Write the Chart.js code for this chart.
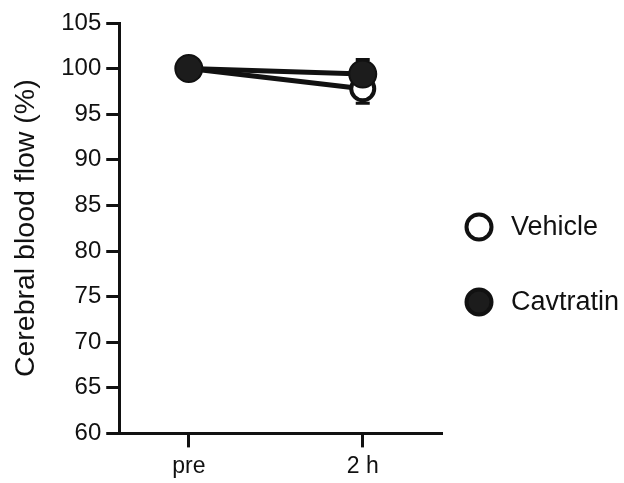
<!DOCTYPE html>
<html>
<head>
<meta charset="utf-8">
<script src="https://cdn.jsdelivr.net/npm/chart.js@4/dist/chart.umd.min.js"></script>
<style>
  html, body { margin: 0; padding: 0; background: #fff; }
  #wrap { width: 624px; height: 483px; }
</style>
</head>
<body>
<div id="wrap"><canvas id="myChart"></canvas></div>
<script>
// data
const timeLabels = ['pre', '2 h'];
const vehicleMean = [100, 97.8];
const vehicleErr = [0, 1.6];
const cavtratinMean = [100, 99.4];
const cavtratinErr = [0, 1.6];
const yTicks = [60, 65, 70, 75, 80, 85, 90, 95, 100, 105];

const ink = '#111';
const FONT = '"Liberation Sans", Arial, sans-serif';

function toPoints(means) {
    return means.map((v, i) => ({ x: i, y: v }));
}

// error bars drawn under the markers; Vehicle shows only the lower arm, Cavtratin the upper
const errorBars = {
    id: 'errorBars',
    beforeDatasetsDraw(chart) {
        const { ctx, scales: { x, y } } = chart;
        ctx.save();
        ctx.strokeStyle = ink;
        ctx.lineWidth = 3;
        const cap = 7;
        const arm = (i, from, to) => {
            const px = x.getPixelForValue(i);
            const y0 = y.getPixelForValue(from);
            const y1 = y.getPixelForValue(to);
            ctx.beginPath();
            ctx.moveTo(px, y0); ctx.lineTo(px, y1);
            ctx.moveTo(px - cap, y1); ctx.lineTo(px + cap, y1);
            ctx.stroke();
        };
        vehicleMean.forEach((m, i) => { if (vehicleErr[i]) arm(i, m, m - vehicleErr[i]); });
        cavtratinMean.forEach((m, i) => { if (cavtratinErr[i]) arm(i, m, m + cavtratinErr[i]); });
        ctx.restore();
    }
};

// legend on the right, outside the axes
const sideLegend = {
    id: 'sideLegend',
    afterDraw(chart) {
        const { ctx } = chart;
        const items = [
            { text: 'Vehicle', fill: '#fff', y: 227 },
            { text: 'Cavtratin', fill: '#1c1c1c', y: 302 }
        ];
        ctx.save();
        items.forEach(it => {
            ctx.beginPath();
            ctx.arc(479, it.y, 12.5, 0, Math.PI * 2);
            ctx.fillStyle = it.fill;
            ctx.fill();
            ctx.lineWidth = 4;
            ctx.strokeStyle = ink;
            ctx.stroke();
            ctx.fillStyle = ink;
            ctx.font = '27px ' + FONT;
            ctx.textBaseline = 'middle';
            ctx.fillText(it.text, 511, it.y + 1);
        });
        ctx.restore();
    }
};

const ctx = document.getElementById('myChart').getContext('2d');
const chart = new Chart(ctx, {
    type: 'line',
    data: {
        datasets: [{
            label: 'Vehicle',
            data: toPoints(vehicleMean),
            borderColor: ink,
            borderWidth: 5,
            backgroundColor: '#fff',
            pointBackgroundColor: '#fff',
            pointBorderColor: ink,
            pointBorderWidth: 4,
            pointRadius: 11.5,
            order: 2
        }, {
            label: 'Cavtratin',
            data: toPoints(cavtratinMean),
            borderColor: ink,
            borderWidth: 5,
            backgroundColor: '#1c1c1c',
            pointBackgroundColor: '#1c1c1c',
            pointBorderColor: ink,
            pointBorderWidth: 2,
            pointRadius: 13.5,
            order: 1
        }]
    },
    options: {
        responsive: true,
        maintainAspectRatio: false,
        animation: false,
        layout: { padding: { left: 9, right: 183, top: 23, bottom: -2 } },
        plugins: {
            legend: { display: false },
            tooltip: { enabled: false }
        },
        scales: {
            x: {
                type: 'linear',
                min: -0.4,
                max: 1.45,
                afterBuildTicks: axis => { axis.ticks = timeLabels.map((_, i) => ({ value: i })); },
                ticks: {
                    callback: v => timeLabels[v],
                    color: ink,
                    font: { family: FONT, size: 23 },
                    padding: 5,
                    maxRotation: 0
                },
                grid: { display: true, drawOnChartArea: false, drawTicks: true, tickLength: 14, color: ink, lineWidth: 3 },
                border: { display: true, color: ink, width: 3 }
            },
            y: {
                min: 60,
                max: 105,
                afterBuildTicks: axis => { axis.ticks = yTicks.map(v => ({ value: v })); },
                ticks: {
                    color: ink,
                    font: { family: FONT, size: 24 },
                    padding: 5
                },
                title: {
                    display: true,
                    text: 'Cerebral blood flow (%)',
                    color: ink,
                    font: { family: FONT, size: 28.5 },
                    padding: { top: 0, bottom: 13 }
                },
                grid: { display: true, drawOnChartArea: false, drawTicks: true, tickLength: 13, color: ink, lineWidth: 3 },
                border: { display: true, color: ink, width: 3 }
            }
        }
    },
    plugins: [errorBars, sideLegend]
});
</script>
</body>
</html>
